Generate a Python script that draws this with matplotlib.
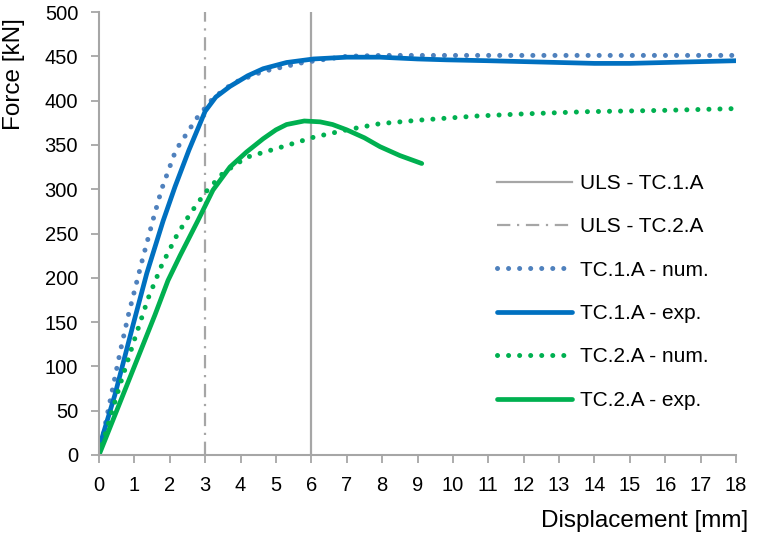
import matplotlib
matplotlib.use("Agg")
import matplotlib.pyplot as plt

plt.rcParams['font.family'] = ['Liberation Sans', 'DejaVu Sans']

# ULS displacement markers [mm]
uls_tc1 = 6
uls_tc2 = 3

# TC.1.A numerical
x1_num = [0, 0.36, 0.59, 0.83, 1.21, 1.53, 1.77, 2.17, 2.76, 3.23, 3.8, 4.64, 5.77, 7.0, 8, 10, 12, 14, 16, 18]
f1_num = [0, 70, 115, 158, 218, 266, 300, 344, 380, 403, 420, 433, 443, 450, 451, 451, 451, 451, 451, 451]

# TC.1.A experimental
x1_exp = [0, 0.45, 0.97, 1.35, 1.81, 2.15, 2.54, 3.0, 3.3, 3.7, 4.2, 4.64, 5.3, 6.06, 7.0, 7.94, 9.0, 9.82, 11, 12, 13, 14, 15, 16, 17, 18]
f1_exp = [8, 68, 148, 205, 264, 303, 344, 388, 404, 416, 428, 436, 443, 447, 449, 449, 447, 446, 445, 444, 443, 442, 442, 443, 444, 445]

# TC.2.A numerical
x2_num = [0, 0.3, 0.6, 1.0, 1.39, 1.77, 2.2, 2.57, 3.0, 3.5, 4.17, 5.11, 6.06, 7.0, 7.94, 9.07, 10.67, 12, 13.78, 16, 18]
f2_num = [0, 40, 80, 130, 177, 214, 248, 272, 296, 318, 336, 347, 358.6, 367, 374, 378, 382.6, 385, 387.5, 389, 391]

# TC.2.A experimental
x2_exp = [0, 0.64, 1.0, 1.58, 1.95, 2.29, 2.8, 3.22, 3.70, 4.17, 4.64, 5.0, 5.3, 5.8, 6.25, 6.6, 7.0, 7.5, 7.94, 8.5, 9.12]
f2_exp = [0, 64, 100, 158, 197, 225, 265, 299, 325, 342, 357, 367, 373, 377, 376, 373, 367, 358, 348, 338, 329]

x_ticks = list(range(0, 19))
y_ticks = list(range(0, 501, 50))

gray = '#A6A6A6'
blue_exp = '#0070C0'
blue_num = '#4F81BD'
green = '#00B050'

fig = plt.figure(figsize=(7.62, 5.37), dpi=100)
ax = fig.add_axes([99/762, 82/537, 637/762, 443/537])

ax.axvline(uls_tc1, color=gray, lw=1.6, label='ULS - TC.1.A')
ax.axvline(uls_tc2, color=gray, lw=1.6, linestyle=(0, (6, 3, 1, 3)), label='ULS - TC.2.A')
ax.plot(x1_num, f1_num, color=blue_num, lw=3.6, linestyle=(0, (0.01, 2.2)),
        dash_capstyle='round', label='TC.1.A - num.')
ax.plot(x1_exp, f1_exp, color=blue_exp, lw=3.4, solid_capstyle='round', label='TC.1.A - exp.')
ax.plot(x2_num, f2_num, color=green, lw=3.6, linestyle=(0, (0.01, 2.2)),
        dash_capstyle='round', label='TC.2.A - num.')
ax.plot(x2_exp, f2_exp, color=green, lw=3.4, solid_capstyle='round', label='TC.2.A - exp.')

ax.set_xlim(0, 18)
ax.set_ylim(0, 500)
ax.set_xticks(x_ticks)
ax.set_yticks(y_ticks)
ax.tick_params(axis='both', colors=gray, labelcolor='black', labelsize=14.5,
               length=6, width=1.3, direction='out')
ax.tick_params(axis='x', pad=9)
ax.tick_params(axis='y', pad=9)
for s in ['top', 'right']:
    ax.spines[s].set_visible(False)
for s in ['left', 'bottom']:
    ax.spines[s].set_color(gray)
    ax.spines[s].set_linewidth(1.5)

ax.set_xlabel('Displacement [mm]', fontsize=17.5, ha='right', va='center')
ax.xaxis.set_label_coords(1.019, -0.149)
ax.set_ylabel('Force [kN]', fontsize=17.5, ha='right', va='center')
ax.yaxis.set_label_coords(-0.133, 0.986)

leg = ax.legend(loc='upper left', bbox_to_anchor=(497/762, 1 - 174/537),
                bbox_transform=fig.transFigure, frameon=False, fontsize=15,
                handlelength=3.6, handletextpad=0.4, labelspacing=1.17,
                borderpad=0, borderaxespad=0)

fig.savefig('out.png', dpi=100)
